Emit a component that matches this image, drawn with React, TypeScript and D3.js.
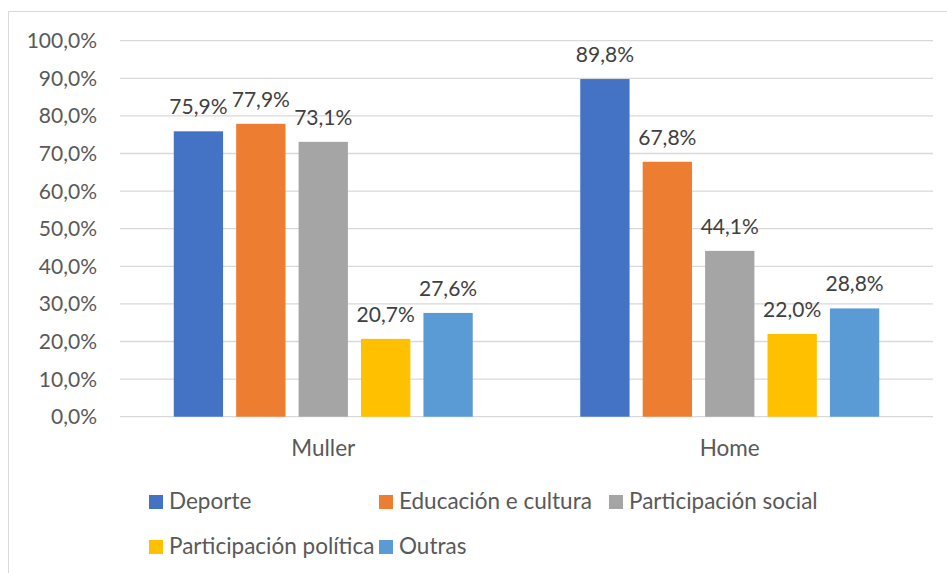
import React, { useEffect } from "react";
import * as d3 from "d3";

const categories = ["Muller", "Home"];
const seriesNames = [
  "Deporte",
  "Educación e cultura",
  "Participación social",
  "Participación política",
  "Outras",
];
const seriesColors = ["#4472C4", "#ED7D31", "#A5A5A5", "#FFC000", "#5B9BD5"];
const mullerValues = [75.9, 77.9, 73.1, 20.7, 27.6];
const homeValues = [89.8, 67.8, 44.1, 22.0, 28.8];
const yTicks = [0, 10, 20, 30, 40, 50, 60, 70, 80, 90, 100];

const W = 947;
const H = 573;
const FONT = "Lato, 'Open Sans', sans-serif";
const TEXT = "#595959";

const fmt = (v: number) => v.toFixed(1).replace(".", ",") + "%";

export default function App() {
  useEffect(() => {
    document.body.style.margin = "0";
  }, []);

  const values = [mullerValues, homeValues];
  const plotLeft = 120;
  const plotRight = 933;
  const y = d3.scaleLinear().domain([0, 100]).range([416.7, 40.7]);
  const x0 = d3.scaleBand<string>().domain(categories).range([plotLeft, plotRight]).padding(0);
  const groupW = x0.bandwidth() * 0.7355;
  const x1 = d3
    .scaleBand<string>()
    .domain(seriesNames)
    .range([0, groupW])
    .paddingInner(0.21)
    .paddingOuter(0);

  const fsNum = 21;
  const fsText = 22.5;

  const legendItems = [
    { name: seriesNames[0], x: 149, y: 509 },
    { name: seriesNames[1], x: 379, y: 509 },
    { name: seriesNames[2], x: 609, y: 509 },
    { name: seriesNames[3], x: 149, y: 554 },
    { name: seriesNames[4], x: 379, y: 554 },
  ];

  return (
    <svg width={W} height={H} style={{ display: "block", background: "#fff" }} fontFamily={FONT}>
      <rect x={8.5} y={11.5} width={W} height={H} fill="#fff" stroke="#d9d9d9" strokeWidth={1} />
      {yTicks.map((t) => (
        <g key={t}>
          <line x1={plotLeft} x2={plotRight} y1={y(t)} y2={y(t)} stroke="#d9d9d9" strokeWidth={1.3} />
          <text x={97} y={y(t) + fsNum * 0.36} textAnchor="end" fontSize={fsNum} fill={TEXT}>
            {fmt(t)}
          </text>
        </g>
      ))}
      {categories.map((c, ci) => {
        const gx = (x0(c) as number) + (x0.bandwidth() - groupW) / 2;
        return (
          <g key={c}>
            {seriesNames.map((s, si) => {
              const v = values[ci][si];
              const bx = gx + (x1(s) as number);
              const by = y(v);
              return (
                <g key={s}>
                  <rect x={bx} y={by} width={x1.bandwidth()} height={y(0) - by} fill={seriesColors[si]} />
                  <text x={bx + x1.bandwidth() / 2} y={by - 17} textAnchor="middle" fontSize={fsNum} fill="#404040">
                    {fmt(v)}
                  </text>
                </g>
              );
            })}
            <text x={(x0(c) as number) + x0.bandwidth() / 2} y={456} textAnchor="middle" fontSize={fsText} fill={TEXT}>
              {c}
            </text>
          </g>
        );
      })}
      {legendItems.map((it, i) => (
        <g key={it.name}>
          <rect x={it.x} y={it.y - 14} width={14} height={14} fill={seriesColors[i]} />
          <text x={it.x + 20} y={it.y} fontSize={fsText} fill={TEXT}>
            {it.name}
          </text>
        </g>
      ))}
    </svg>
  );
}
